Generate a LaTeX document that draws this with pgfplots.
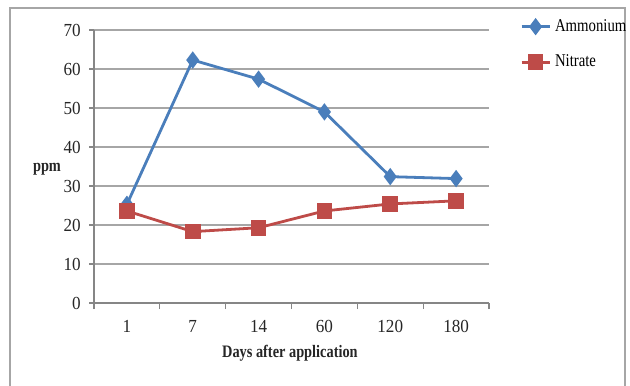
\documentclass[border=0pt]{standalone}
\usepackage{fontspec}
\setmainfont{Liberation Serif}[FakeStretch=0.82]
\newfontfamily\tickfont{Liberation Serif}[FakeStretch=0.93]
\usepackage{pgfplots}
\pgfplotsset{compat=1.18}
\definecolor{amm}{HTML}{4A7EBB}
\definecolor{nit}{HTML}{BE4B48}
\definecolor{axgray}{HTML}{868686}
\definecolor{gridgray}{HTML}{A6A6A6}
\begin{document}
\fontsize{8.75}{10}\selectfont
\begin{tikzpicture}
\useasboundingbox (-47pt,-41pt) rectangle (268pt,151.5pt);
\draw[gray!70, line width=1.2pt] (-42pt,-50pt) rectangle (265.5pt,147.5pt);
\begin{axis}[
  at={(0pt,0pt)}, anchor=south west,
  scale only axis, width=197.5pt, height=136.5pt,
  xmin=-0.5, xmax=5.5, ymin=0, ymax=70,
  xtick={0,1,2,3,4,5},
  xticklabels={1,7,14,60,120,180},
  major x tick style={draw=none},
  minor xtick={-0.5,0.5,1.5,2.5,3.5,4.5,5.5},
  minor tick length=3pt,
  ytick={0,10,...,70},
  major tick length=2.5pt,
  tick align=outside,
  tick style={axgray, line width=0.6pt},
  axis x line*=bottom, axis y line*=left,
  axis line style={axgray, line width=0.8pt, -},
  ymajorgrids, grid style={gridgray, line width=0.8pt},
  /pgf/number format/assume math mode=true,
  tick label style={font=\tickfont\fontsize{9.2}{10}\selectfont, text=black!85},
  xticklabel style={yshift=-3pt},
  yticklabel style={xshift=-1pt},
  clip=false,
  legend cell align=left,
  legend style={at={(rel axis cs:1.078,1.055)}, anchor=north west, draw=none, fill=none,
    inner sep=0pt, row sep=6.5pt, font=\fontsize{9}{10}\selectfont,
    /tikz/every even column/.append style={column sep=0pt}},
  legend image code/.code={\draw[mark repeat=2,mark phase=2,#1] plot coordinates {(0pt,0pt) (7pt,0pt) (14pt,0pt)};},
]
\addplot[amm, line width=1.4pt, mark=diamond*, mark size=3.2pt, mark options={solid, fill=amm}]
  coordinates {(0,25.3) (1,62.3) (2,57.4) (3,49.0) (4,32.4) (5,31.9)};
\addlegendentry{Ammonium}
\addplot[nit, line width=1.4pt, mark=square*, mark size=3.2pt, mark options={solid, fill=nit}]
  coordinates {(0,23.6) (1,18.3) (2,19.3) (3,23.6) (4,25.4) (5,26.2)};
\addlegendentry{Nitrate}
\node[font=\bfseries\fontsize{8.75}{10}\selectfont, text=black!85] at (rel axis cs:0,0.49) [xshift=-23.5pt] {ppm};
\node[font=\bfseries\fontsize{8.75}{10}\selectfont, text=black!85] at (rel axis cs:0.496,0) [yshift=-25pt] {Days after application};
\end{axis}
\end{tikzpicture}
\end{document}
